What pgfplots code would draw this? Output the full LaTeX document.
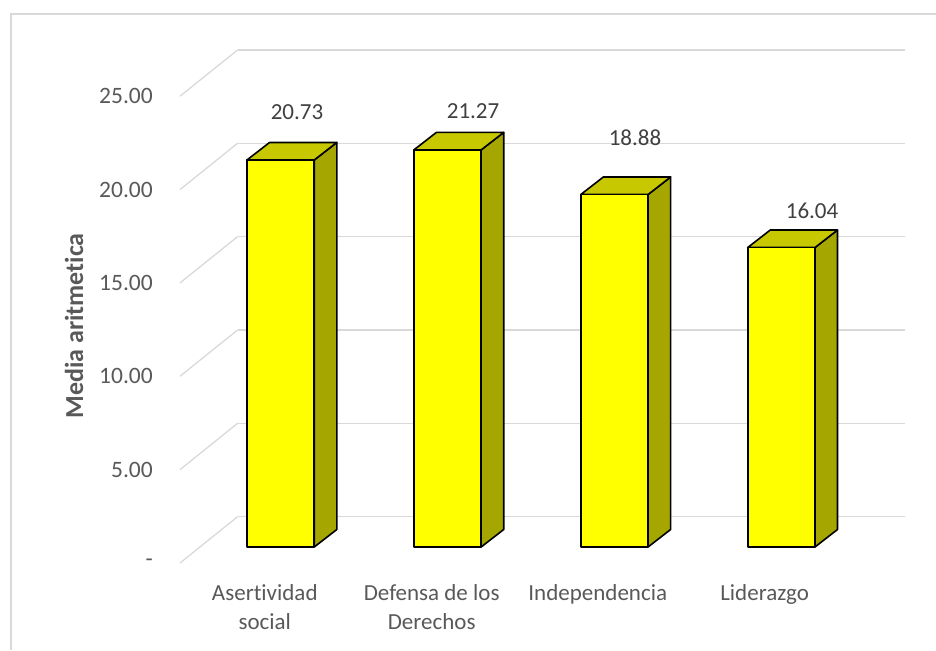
\documentclass[border=0pt]{standalone}
\usepackage{pgfplots}
\pgfplotsset{compat=1.18}
\usepackage{pgfplotstable}
\usepackage{fontspec}
\setmainfont{Carlito}[RawFeature={-liga;-clig;-dlig;-calt}]
\definecolor{gridc}{HTML}{D9D9D9}
\definecolor{txt}{HTML}{595959}
\definecolor{lab}{HTML}{404040}
\definecolor{frontc}{HTML}{FFFF00}
\definecolor{topc}{HTML}{C8C800}
\definecolor{sidec}{HTML}{A6A600}

\pgfplotstableread{
i val lx ly
0 20.73 0.098 23.30
1 21.27 1.153 23.35
2 18.88 2.123 21.91
3 16.04 3.184 18.00
}\data

\begin{document}
\begin{tikzpicture}
\useasboundingbox (0pt,0pt) rectangle (936pt,650pt);
\draw[gridc, line width=1.2pt] (11pt,0pt) -- (11pt,636pt) -- (936pt,636pt);
\begin{axis}[
  at={(180pt,87pt)}, anchor=south west,
  x=166.9pt, y=18.67pt,
  xmin=-0.603, xmax=3.741, ymin=-0.857, ymax=26.623,
  enlargelimits=false, clip=false,
  axis line style={draw=none},
  major tick length=0pt,
  ytick={-0.857,4.143,9.143,14.143,19.143,24.143},
  yticklabels={-,5.00,10.00,15.00,20.00,25.00},
  yticklabel style={anchor=east, inner sep=0pt, xshift=-27pt, text=txt, font=\fontsize{23.5}{27}\selectfont},
  xtick={-0.095,0.905,1.9,2.9},
  xticklabels={{Asertividad\\social},{Defensa de los\\Derechos},{Independencia},{Liderazgo}},
  xticklabel style={anchor=north, inner sep=0pt, yshift=-21pt, align=center, text=txt, font=\fontsize{23}{29}\selectfont},
  ylabel={Media aritmetica},
  ylabel style={at={(rel axis cs:-0.1462,0.462)}, anchor=center, rotate=0, text=txt, font=\bfseries\fontsize{26}{30}\selectfont},
]
% back wall gridlines
\draw[gridc, line width=1.3pt] (axis cs:-0.258,1.623) -- (axis cs:3.741,1.623);
\draw[gridc, line width=1.3pt] (axis cs:-0.258,6.623) -- (axis cs:3.741,6.623);
\draw[gridc, line width=1.3pt] (axis cs:-0.258,11.623) -- (axis cs:3.741,11.623);
\draw[gridc, line width=1.3pt] (axis cs:-0.258,16.623) -- (axis cs:3.741,16.623);
\draw[gridc, line width=1.3pt] (axis cs:-0.258,21.623) -- (axis cs:3.741,21.623);
\draw[gridc, line width=1.3pt] (axis cs:-0.258,26.623) -- (axis cs:3.741,26.623);
% side wall diagonals
\draw[gridc, line width=1.3pt] (axis cs:-0.603,-0.857) -- (axis cs:-0.258,1.623);
\draw[gridc, line width=1.3pt] (axis cs:-0.603,4.143) -- (axis cs:-0.258,6.623);
\draw[gridc, line width=1.3pt] (axis cs:-0.603,9.143) -- (axis cs:-0.258,11.623);
\draw[gridc, line width=1.3pt] (axis cs:-0.603,14.143) -- (axis cs:-0.258,16.623);
\draw[gridc, line width=1.3pt] (axis cs:-0.603,19.143) -- (axis cs:-0.258,21.623);
\draw[gridc, line width=1.3pt] (axis cs:-0.603,24.143) -- (axis cs:-0.258,26.623);

% side faces
\addplot[fill=sidec, draw=black, line width=1.6pt, line join=round] coordinates {(0.2015,0) (0.3365,0.937) (0.3365,21.667) (0.2015,20.73)} --cycle;
\addplot[fill=sidec, draw=black, line width=1.6pt, line join=round] coordinates {(1.2015,0) (1.3365,0.937) (1.3365,22.207) (1.2015,21.27)} --cycle;
\addplot[fill=sidec, draw=black, line width=1.6pt, line join=round] coordinates {(2.2015,0) (2.3365,0.937) (2.3365,19.817) (2.2015,18.88)} --cycle;
\addplot[fill=sidec, draw=black, line width=1.6pt, line join=round] coordinates {(3.2015,0) (3.3365,0.937) (3.3365,16.977) (3.2015,16.04)} --cycle;
% top faces
\addplot[fill=topc, draw=black, line width=1.6pt, line join=round] coordinates {(-0.2015,20.73) (0.2015,20.73) (0.3365,21.667) (-0.0665,21.667)} --cycle;
\addplot[fill=topc, draw=black, line width=1.6pt, line join=round] coordinates {(0.7985,21.27) (1.2015,21.27) (1.3365,22.207) (0.9335,22.207)} --cycle;
\addplot[fill=topc, draw=black, line width=1.6pt, line join=round] coordinates {(1.7985,18.88) (2.2015,18.88) (2.3365,19.817) (1.9335,19.817)} --cycle;
\addplot[fill=topc, draw=black, line width=1.6pt, line join=round] coordinates {(2.7985,16.04) (3.2015,16.04) (3.3365,16.977) (2.9335,16.977)} --cycle;
% front faces
\addplot[ybar, bar width=0.403, fill=frontc, draw=black, line width=1.6pt, line join=round] table[x=i, y=val] {\data};
% value labels
\addplot[draw=none, mark=none, nodes near coords, point meta=explicit symbolic,
  nodes near coords style={anchor=center, inner sep=0pt, text=lab, font=\fontsize{23}{27}\selectfont}]
  table[x=lx, y=ly, meta=val] {\data};
\end{axis}
\end{tikzpicture}
\end{document}
